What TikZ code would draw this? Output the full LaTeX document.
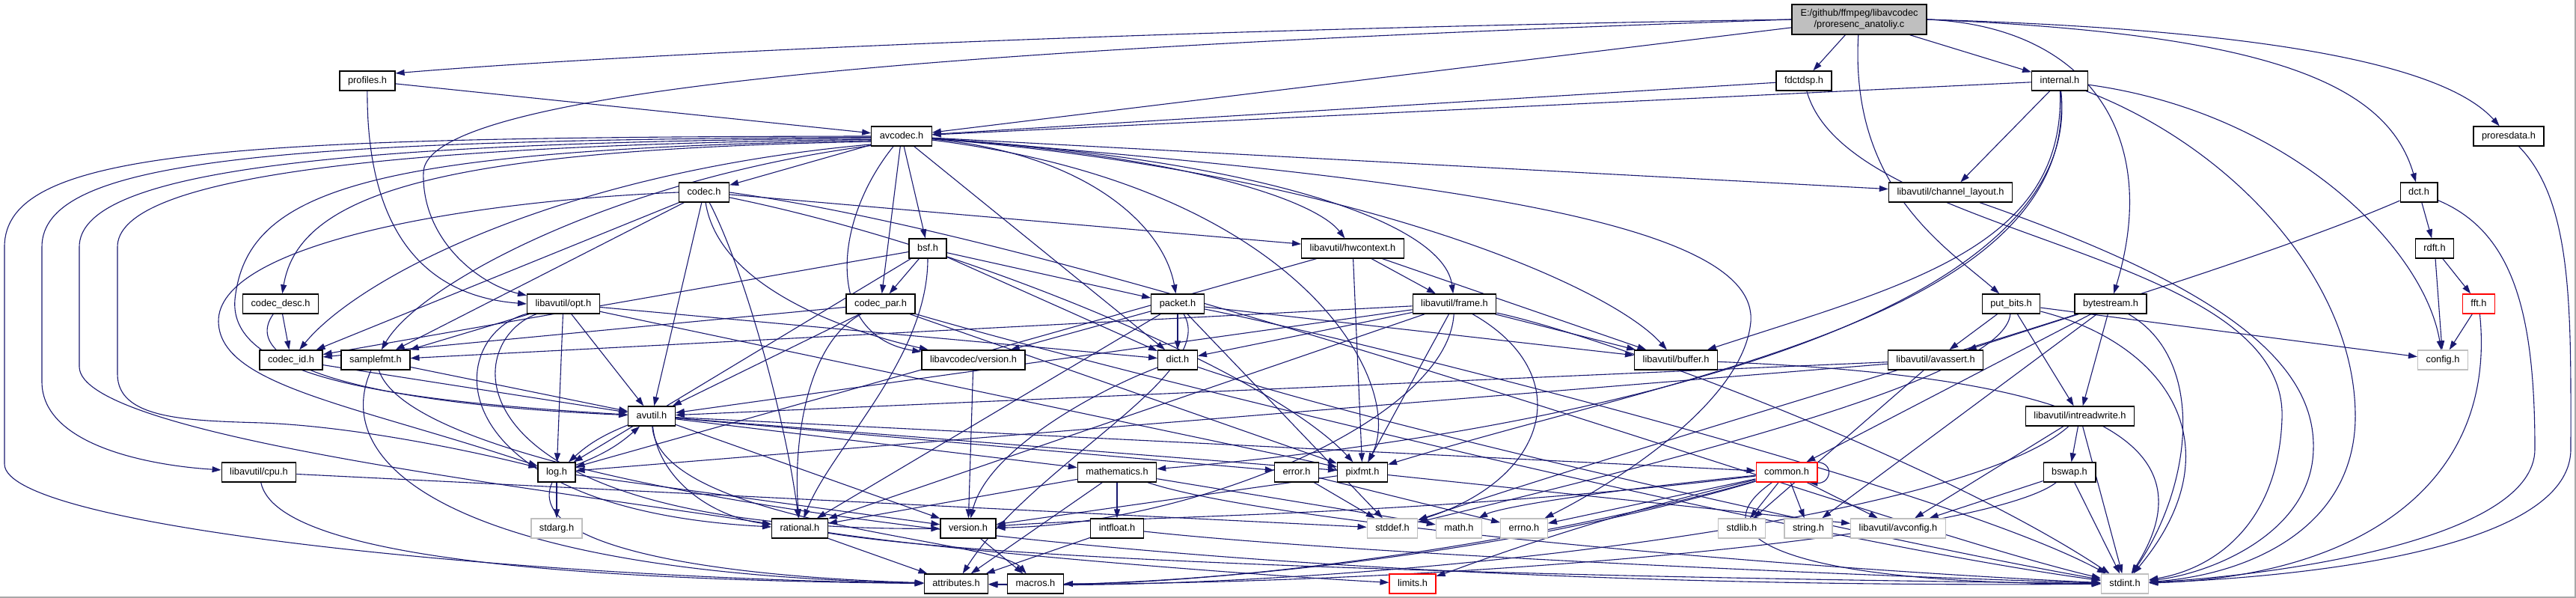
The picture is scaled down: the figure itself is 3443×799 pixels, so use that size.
\documentclass[tikz,border=0pt]{standalone}
\usepackage{fontspec}
\setmainfont{Liberation Sans}
\usepackage{xcolor}
\usepackage{tikz}
\usetikzlibrary{arrows.meta}
\definecolor{edgeblue}{HTML}{191970}
\definecolor{boxgray}{HTML}{BFBFBF}
\definecolor{cutred}{HTML}{FF0000}
\definecolor{framegray}{HTML}{A8A8A8}
\newcommand{\dxfont}{\fontsize{12.8}{15}\selectfont}
\pgfdeclarelayer{edgelayer}
\pgfsetlayers{edgelayer,main}
\tikzset{
    hdr/.style={rectangle, draw=black, line width=1.3pt, fill=white, minimum height=26pt, inner xsep=11pt, inner ysep=0pt, text height=9.6pt, text depth=2.8pt, font=\dxfont},
    syshdr/.style={hdr, draw=boxgray},
    cuthdr/.style={hdr, draw=cutred},
    srcfile/.style={rectangle, draw=black, line width=1.3pt, fill=boxgray, minimum width=180pt, minimum height=40pt, inner xsep=11pt, align=center, font=\dxfont},
    dep/.style={draw=edgeblue, line width=1.1pt, -{Triangle[length=12pt,width=8pt]}}
}

\begin{document}
\begin{tikzpicture}[x=1pt, y=-1pt]
    \useasboundingbox (0,0) rectangle (3443,799);
    \draw[framegray, line width=2pt] (0,798) -- (3442,798) -- (3442,0);

    \node[srcfile] (src) at (2485,26) {E:/github/ffmpeg/libavcodec\\/proresenc\_anatoliy.c};
    \node[hdr] (profiles) at (491,108) {profiles.h};
    \node[hdr] (fdctdsp) at (2411,108) {fdctdsp.h};
    \node[hdr] (internal) at (2753,108) {internal.h};
    \node[hdr] (avcodec) at (1205,182) {avcodec.h};
    \node[hdr] (proresdata) at (3353,182) {proresdata.h};
    \node[hdr] (codec) at (941,257) {codec.h};
    \node[hdr] (chlayout) at (2607,257) {libavutil/channel\_layout.h};
    \node[hdr] (dct) at (3233,257) {dct.h};
    \node[hdr] (bsf) at (1240,332) {bsf.h};
    \node[hdr] (hwcontext) at (1808,332) {libavutil/hwcontext.h};
    \node[hdr] (rdft) at (3254,332) {rdft.h};
    \node[hdr] (codecdesc) at (375,406) {codec\_desc.h};
    \node[hdr] (opt) at (753,406) {libavutil/opt.h};
    \node[hdr] (codecpar) at (1177,406) {codec\_par.h};
    \node[hdr] (packet) at (1574,406) {packet.h};
    \node[hdr] (frame) at (1944,406) {libavutil/frame.h};
    \node[hdr] (putbits) at (2688,406) {put\_bits.h};
    \node[hdr] (bytestream) at (2821,406) {bytestream.h};
    \node[cuthdr] (fft) at (3313,406) {fft.h};
    \node[hdr] (codecid) at (389,481) {codec\_id.h};
    \node[hdr] (samplefmt) at (502,481) {samplefmt.h};
    \node[hdr] (lavcversion) at (1301,481) {libavcodec/version.h};
    \node[hdr] (dict) at (1574,481) {dict.h};
    \node[hdr] (buffer) at (2240,481) {libavutil/buffer.h};
    \node[hdr] (avassert) at (2587,481) {libavutil/avassert.h};
    \node[syshdr] (config) at (3265,481) {config.h};
    \node[hdr] (avutil) at (871,556) {avutil.h};
    \node[hdr] (intreadwrite) at (2780,556) {libavutil/intreadwrite.h};
    \node[hdr] (cpu) at (346,631) {libavutil/cpu.h};
    \node[hdr] (log) at (744,631) {log.h};
    \node[hdr] (mathematics) at (1493,631) {mathematics.h};
    \node[hdr] (error) at (1733,631) {error.h};
    \node[hdr] (pixfmt) at (1821,631) {pixfmt.h};
    \node[cuthdr] (common) at (2388,631) {common.h};
    \node[hdr] (bswap) at (2766,631) {bswap.h};
    \node[syshdr] (stdarg) at (744,706) {stdarg.h};
    \node[hdr] (rational) at (1069,706) {rational.h};
    \node[hdr] (version) at (1294,706) {version.h};
    \node[hdr] (intfloat) at (1493,706) {intfloat.h};
    \node[syshdr] (stddef) at (1861,706) {stddef.h};
    \node[syshdr] (math) at (1950,706) {math.h};
    \node[syshdr] (errno) at (2037,706) {errno.h};
    \node[syshdr] (stdlib) at (2328,706) {stdlib.h};
    \node[syshdr] (string) at (2417,706) {string.h};
    \node[syshdr] (avconfig) at (2537,706) {libavutil/avconfig.h};
    \node[hdr] (attributes) at (1278,780) {attributes.h};
    \node[hdr] (macros) at (1384,780) {macros.h};
    \node[cuthdr] (limits) at (1888,780) {limits.h};
    \node[syshdr] (stdint) at (2840,780) {stdint.h};

    \begin{pgfonlayer}{edgelayer}
    \draw[dep] (src.west) .. controls (1500,40) and (800,75) .. (profiles.15);
    \draw[dep] (src) -- (avcodec);
    \draw[dep] (src.west) .. controls (1400,60) and (570,110) .. (566,230) .. controls (563,320) and (640,380) .. (opt);
    \draw[dep] (src) -- (fdctdsp);
    \draw[dep] (src) -- (internal);
    \draw[dep] (src) .. controls (2472,250) and (2600,330) .. (putbits);
    \draw[dep] (src.east) .. controls (2790,35) and (2890,180) .. (bytestream);
    \draw[dep] (src.east) .. controls (3030,45) and (3190,110) .. (dct);
    \draw[dep] (src.east) .. controls (3050,40) and (3270,90) .. (proresdata);

    \draw[dep] (profiles) -- (avcodec);
    \draw[dep] (profiles) .. controls (490,300) and (560,395) .. (opt.west);
    \draw[dep] (fdctdsp) -- (avcodec);
    \draw[dep] (fdctdsp) .. controls (2470,320) and (3060,330) .. (3050,560) .. controls (3045,700) and (2960,760) .. (stdint);

    \draw[dep] (internal) -- (avcodec);
    \draw[dep] (internal) -- (chlayout);
    \draw[dep] (internal) .. controls (2760,330) and (2550,380) .. (buffer);
    \draw[dep] (internal) .. controls (2780,420) and (2250,500) .. (pixfmt);
    \draw[dep] (internal) .. controls (2790,430) and (2100,580) .. (mathematics);
    \draw[dep] (internal) .. controls (3060,150) and (3240,330) .. (config);
    \draw[dep] (internal) .. controls (2990,200) and (3150,380) .. (3148,560) .. controls (3145,710) and (3000,768) .. (stdint);

    \draw[dep] (proresdata) .. controls (3440,270) and (3436,420) .. (3436,600) .. controls (3436,740) and (3050,772) .. (stdint);
    \draw[dep] (dct) -- (rdft);
    \draw[dep] (dct) .. controls (3360,310) and (3388,420) .. (3388,600) .. controls (3388,720) and (3050,768) .. (stdint);
    \draw[dep] (dct) .. controls (2950,380) and (2300,560) .. (stddef);
    \draw[dep] (rdft) -- (fft);
    \draw[dep] (rdft) -- (config);
    \draw[dep] (fft) -- (config);
    \draw[dep] (fft) .. controls (3338,650) and (3150,770) .. (stdint);

    \draw[dep] (avcodec) -- (codec);
    \draw[dep] (avcodec) -- (bsf);
    \draw[dep] (avcodec) -- (codecpar);
    \draw[dep] (avcodec) -- (dict);
    \draw[dep] (avcodec) -- (chlayout);
    \draw[dep] (avcodec) .. controls (1450,205) and (1555,300) .. (packet);
    \draw[dep] (avcodec) .. controls (1600,210) and (1760,270) .. (hwcontext);
    \draw[dep] (avcodec) .. controls (1700,215) and (1930,300) .. (frame);
    \draw[dep] (avcodec) .. controls (1800,230) and (2150,380) .. (buffer);
    \draw[dep] (avcodec) .. controls (1750,250) and (1880,520) .. (pixfmt);
    \draw[dep] (avcodec) .. controls (1950,240) and (2350,300) .. (2340,430) .. controls (2330,540) and (2150,650) .. (errno);
    \draw[dep] (avcodec) .. controls (1110,300) and (1105,450) .. (lavcversion);
    \draw[dep] (avcodec.190) .. controls (600,200) and (400,255) .. (codecdesc);
    \draw[dep] (avcodec.195) .. controls (750,230) and (480,370) .. (codecid);
    \draw[dep] (avcodec.197) .. controls (820,240) and (560,380) .. (samplefmt);
    \draw[dep] (avcodec.188) .. controls (500,200) and (330,250) .. (314,400) .. controls (305,505) and (520,535) .. (avutil);
    \draw[dep] (avcodec.180) .. controls (300,183) and (6,200) .. (6,330) -- (6,620) .. controls (6,705) and (700,772) .. (attributes);
    \draw[dep] (avcodec.182) .. controls (350,187) and (56,215) .. (56,330) -- (56,510) .. controls (56,595) and (200,622) .. (cpu);
    \draw[dep] (avcodec.184) .. controls (400,190) and (106,235) .. (106,330) -- (106,490) .. controls (106,580) and (700,650) .. (rational);
    \draw[dep] (avcodec.186) .. controls (450,195) and (157,245) .. (157,330) -- (157,500) .. controls (157,560) and (250,562) .. (350,565) .. controls (480,570) and (640,605) .. (log);

    \draw[dep] (codec) -- (avutil);
    \draw[dep] (codec) -- (hwcontext);
    \draw[dep] (codec) -- (codecid);
    \draw[dep] (codec) -- (samplefmt);
    \draw[dep] (codec) .. controls (1300,330) and (1700,500) .. (pixfmt);
    \draw[dep] (codec) .. controls (995,360) and (1050,560) .. (rational);
    \draw[dep] (codec) .. controls (960,380) and (1120,440) .. (lavcversion);
    \draw[dep] (codec.west) .. controls (600,270) and (290,330) .. (292,430) .. controls (294,515) and (470,540) .. (log);
    \draw[dep] (codec.east) .. controls (1500,330) and (2500,700) .. (stdint);

    \draw[dep] (codecdesc) -- (codecid);
    \draw[dep] (codecdesc) .. controls (315,490) and (500,540) .. (avutil);
    \draw[dep] (codecid) -- (avutil);
    \draw[dep] (samplefmt) -- (avutil);
    \draw[dep] (samplefmt) .. controls (440,620) and (600,765) .. (attributes);
    \draw[dep] (samplefmt) .. controls (560,660) and (1600,790) .. (stdint);

    \draw[dep] (codecpar) -- (avutil);
    \draw[dep] (codecpar) -- (codecid);
    \draw[dep] (codecpar) -- (pixfmt);
    \draw[dep] (codecpar) .. controls (1075,460) and (1060,600) .. (rational);
    \draw[dep] (codecpar) .. controls (1500,500) and (2400,720) .. (stdint);

    \draw[dep] (bsf) -- (codecpar);
    \draw[dep] (bsf) -- (packet);
    \draw[dep] (bsf) -- (dict);
    \draw[dep] (bsf) -- (log);
    \draw[dep] (bsf) -- (codecid);
    \draw[dep] (bsf) .. controls (1240,480) and (1110,600) .. (rational);

    \draw[dep] (packet) -- (dict);
    \draw[dep] (packet) -- (lavcversion);
    \draw[dep] (packet) -- (buffer);
    \draw[dep] (packet) -- (rational);
    \draw[dep] (packet) -- (stddef);
    \draw[dep] (packet) .. controls (1630,500) and (1380,620) .. (attributes);
    \draw[dep] (packet) .. controls (1800,450) and (2600,650) .. (stdint);
    \draw[dep] (lavcversion) -- (version);

    \draw[dep] (opt) -- (samplefmt);
    \draw[dep] (opt) -- (avutil);
    \draw[dep] (opt) -- (log);
    \draw[dep] (opt) -- (dict);
    \draw[dep] (opt) -- (pixfmt);
    \draw[dep] (opt) .. controls (590,450) and (580,680) .. (rational);
    \draw[dep] (opt) .. controls (610,460) and (600,710) .. (version);

    \draw[dep] (avutil) to[bend right=10] (log);
    \draw[dep] (log) to[bend right=10] (avutil);
    \draw[dep] (avutil) -- (common);
    \draw[dep] (avutil) -- (error);
    \draw[dep] (avutil) -- (mathematics);
    \draw[dep] (avutil) -- (pixfmt);
    \draw[dep] (avutil) -- (version);
    \draw[dep] (avutil) .. controls (880,640) and (950,690) .. (rational);
    \draw[dep] (avutil) .. controls (880,700) and (1330,720) .. (macros);

    \draw[dep] (log) -- (stdarg);
    \draw[dep] (log) .. controls (700,730) and (950,770) .. (attributes);
    \draw[dep] (log) -- (version);
    \draw[dep] (cpu) -- (stddef);
    \draw[dep] (cpu) .. controls (370,750) and (800,775) .. (attributes);
    \draw[dep] (dict) .. controls (1470,520) and (1320,600) .. (version);
    \draw[dep] (dict) .. controls (1800,560) and (2500,720) .. (stdint);

    \draw[dep] (rational) -- (attributes);
    \draw[dep] (rational) .. controls (1300,740) and (1700,770) .. (limits);
    \draw[dep] (rational) .. controls (1400,760) and (2400,775) .. (stdint);
    \draw[dep] (version) -- (macros);
    \draw[dep] (mathematics) -- (rational);
    \draw[dep] (mathematics) -- (intfloat);
    \draw[dep] (mathematics) -- (attributes);
    \draw[dep] (mathematics) -- (math);
    \draw[dep] (mathematics) .. controls (1700,700) and (2400,760) .. (stdint);
    \draw[dep] (intfloat) -- (attributes);
    \draw[dep] (intfloat) .. controls (1800,740) and (2500,770) .. (stdint);
    \draw[dep] (error) -- (errno);
    \draw[dep] (error) -- (stddef);
    \draw[dep] (pixfmt) -- (version);
    \draw[dep] (pixfmt) -- (avconfig);

    \draw[dep] (common) -- (errno);
    \draw[dep] (common) -- (stdlib);
    \draw[dep] (common) -- (string);
    \draw[dep] (common) -- (avconfig);
    \draw[dep] (common) .. controls (2100,660) and (2000,680) .. (math);
    \draw[dep] (common) .. controls (2100,700) and (1950,760) .. (limits);
    \draw[dep] (common) .. controls (1900,690) and (1500,690) .. (version);
    \draw[dep] (common) .. controls (2000,740) and (1600,780) .. (macros);
    \draw[dep] (common) .. controls (1950,760) and (1500,785) .. (attributes);
    \draw[dep] (common) .. controls (2260,720) and (2400,780) .. (stdint);
    \draw[dep] ([xshift=-6pt]common.north east) .. controls +(30,-2) and +(30,2) .. ([xshift=-12pt]common.south east);

    \draw[dep] (frame) -- (avutil);
    \draw[dep] (frame) -- (samplefmt);
    \draw[dep] (frame) -- (buffer);
    \draw[dep] (frame) -- (dict);
    \draw[dep] (frame) -- (rational);
    \draw[dep] (frame) -- (pixfmt);
    \draw[dep] (frame) .. controls (1935,560) and (1600,700) .. (version);
    \draw[dep] (frame) .. controls (2110,500) and (2070,640) .. (stddef);
    \draw[dep] (frame) .. controls (2150,450) and (2600,620) .. (stdint);
    \draw[dep] (hwcontext) -- (buffer);
    \draw[dep] (hwcontext) -- (frame);
    \draw[dep] (hwcontext) -- (log);
    \draw[dep] (hwcontext) -- (pixfmt);
    \draw[dep] (buffer) .. controls (2700,500) and (2980,560) .. (stdint);
    \draw[dep] (chlayout) .. controls (2960,380) and (3095,480) .. (3092,600) .. controls (3090,710) and (2960,765) .. (stdint);

    \draw[dep] (putbits) -- (avassert);
    \draw[dep] (putbits) -- (intreadwrite);
    \draw[dep] (putbits) -- (config);
    \draw[dep] (putbits) .. controls (2680,500) and (2300,600) .. (stddef);
    \draw[dep] (putbits) .. controls (2900,460) and (2990,600) .. (stdint);
    \draw[dep] (bytestream) -- (avassert);
    \draw[dep] (bytestream) -- (intreadwrite);
    \draw[dep] (bytestream) -- (common);
    \draw[dep] (bytestream) -- (string);
    \draw[dep] (bytestream) .. controls (2950,480) and (2930,650) .. (stdint);
    \draw[dep] (avassert) -- (stdlib);
    \draw[dep] (avassert) -- (avutil);
    \draw[dep] (avassert) -- (log);
    \draw[dep] (intreadwrite) -- (bswap);
    \draw[dep] (intreadwrite) -- (avconfig);
    \draw[dep] (intreadwrite) -- (stdint);
    \draw[dep] (intreadwrite) .. controls (2620,700) and (1800,790) .. (attributes);
    \draw[dep] (bswap) -- (avconfig);
    \draw[dep] (bswap) -- (stdint);
    \draw[dep] (bswap) .. controls (2650,720) and (1900,785) .. (attributes);
    \end{pgfonlayer}
\end{tikzpicture}
\end{document}
